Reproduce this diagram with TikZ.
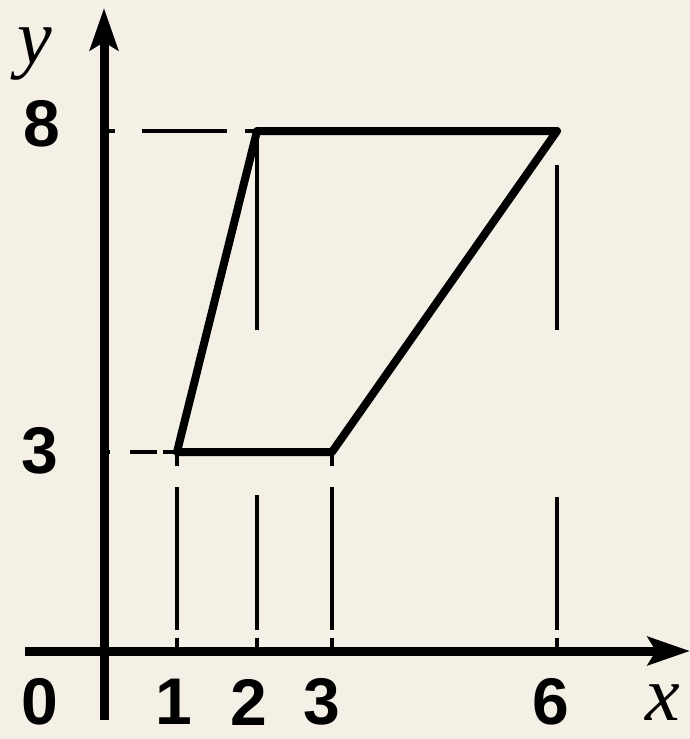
\documentclass[tikz,border=0pt]{standalone}
\usepackage{fontspec}
\setmainfont{Liberation Sans}
\newfontfamily\serifit{Liberation Serif}
\usetikzlibrary{arrows.meta}
\definecolor{paper}{RGB}{244,240,230}
\begin{document}
\begin{tikzpicture}[x=1pt,y=-1pt,
 axis/.style={line width=9pt,-{Stealth[length=42pt,width=28pt,inset=8pt]}},
 edge/.style={line width=8pt,line join=round},
 guide/.style={line width=3.5pt},
 num/.style={inner sep=0pt,font=\fontsize{66}{66}\selectfont\bfseries},
 var/.style={inner sep=0pt,font=\fontsize{78}{78}\selectfont\serifit\itshape}]
\fill[paper] (0,0) rectangle (690,739);
\useasboundingbox (0,0) rectangle (690,739);
% coordinates
\coordinate (A) at (177,452);
\coordinate (B) at (257,131);
\coordinate (C) at (557,131);
\coordinate (D) at (332,452);
\coordinate (A0) at (177,651);
\coordinate (B0) at (257,651);
\coordinate (C0) at (557,651);
\coordinate (D0) at (332,651);
\coordinate (Y8) at (104,131);
\coordinate (Y3) at (104,452);
\coordinate (Ybot) at (104,720);
\coordinate (Ytop) at (104,8);
\coordinate (Xl) at (25,651);
\coordinate (Xr) at (690,651);
% guides
\draw[guide,dash pattern=on 14pt off 21pt on 143pt off 8pt on 30pt] (A) -- (A0);
\draw[guide,dash pattern=on 14pt off 21pt on 143pt off 8pt on 30pt] (D) -- (D0);
\draw[guide,dash pattern=on 199pt off 165pt on 135pt off 8pt on 30pt] (B) -- (B0);
\draw[guide,dash pattern=on 0pt off 34pt on 165pt off 167pt on 133pt off 8pt on 30pt] (C) -- (C0);
\draw[guide,dash pattern=on 11pt off 27pt on 85pt off 18pt on 30pt] (Y8) -- (B);
\draw[guide,dash pattern=on 6pt off 20pt on 27pt off 6pt on 30pt] (Y3) -- (A);
% axes
\draw[axis] (Ybot) -- (Ytop);
\draw[axis] (Xl) -- (Xr);
% figure
\draw[edge] (A) -- (B) -- (C) -- (D) -- cycle;
% labels
\node[var] (ly) at (35,54) {y};
\node[num] (l8) at (42,124) {8};
\node[num] (l3y) at (40,451) {3};
\node[num] (l0) at (40,702) {0};
\node[num] (l1) at (174,702) {1};
\node[num] (l2) at (249,702) {2};
\node[num] (l3) at (322,702) {3};
\node[num] (l6) at (551,702) {6};
\node[var] (lx) at (663,703) {x};
\end{tikzpicture}
\end{document}
